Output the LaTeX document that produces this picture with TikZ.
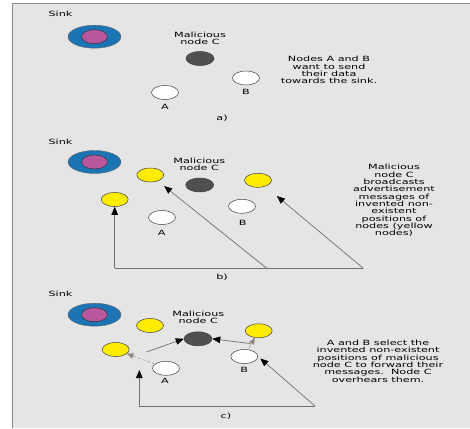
\documentclass[tikz,border=0pt]{standalone}
\usepackage{fontspec}
\usepackage{graphicx}
\newfontfamily\labfont{DejaVu Sans}
\usetikzlibrary{shapes.geometric,arrows.meta}
\definecolor{panel}{HTML}{E5E5E5}
\definecolor{framegray}{HTML}{8A8A8A}
\definecolor{sinkblue}{HTML}{1B75B5}
\definecolor{sinkpink}{HTML}{B8569E}
\definecolor{malgray}{HTML}{505050}
\definecolor{fakeyellow}{HTML}{FFEC00}
\definecolor{linegray}{HTML}{707070}
\definecolor{lightarr}{HTML}{B0A9A2}
\definecolor{lighthead}{HTML}{918880}
\newcommand\sqtxt[1]{\scalebox{1}[0.64]{\begin{tabular}{@{}c@{}}#1\end{tabular}}}
\begin{document}
\begin{tikzpicture}[x=1pt,y=-1pt,
  lbl/.style={font=\labfont\fontsize{11.2}{9.8}\selectfont, inner sep=0pt, text=black},
  nd/.style={ellipse, draw=black!75, line width=0.5pt, minimum width=27pt, minimum height=14pt, inner sep=0pt},
  plain/.style={nd, fill=white},
  fake/.style={nd, fill=fakeyellow},
  mal/.style={nd, fill=malgray, minimum width=28pt},
  sinkout/.style={ellipse, fill=sinkblue, draw=black!60, line width=0.4pt, minimum width=53pt, minimum height=23pt, inner sep=0pt},
  sinkin/.style={ellipse, fill=sinkpink, draw=black!80, line width=0.5pt, minimum width=26pt, minimum height=14pt, inner sep=0pt},
  ln/.style={draw=linegray, line width=0.7pt},
  arr/.style={ln, -{Triangle[length=8pt,width=6.5pt,color=black]}},
  larr/.style={draw=lightarr, line width=0.7pt, -{Triangle[length=6.5pt,width=5.5pt,color=lighthead]}},
  darr/.style={larr, densely dashed}
]
\useasboundingbox (0,0) rectangle (470,428);
\fill[white] (0,0) rectangle (470,428);
\fill[panel] (12.5,4) rectangle (470,428);
\draw[framegray, line width=1pt] (12.5,428) -- (12.5,4) -- (470,4);

% ---------- panel a ----------
\node[lbl] (sinkta) at (60.5,15) {\sqtxt{Sink}};
\node[sinkout] (sa) at (94.5,36.7) {};
\node[sinkin] (sai) at (sa) {};
\node[lbl] (malta) at (200,39) {\sqtxt{Malicious\\node C}};
\node[mal] (Ca) at (200,58.5) {};
\node[plain] (Ba) at (246,78) {};
\node[lbl] (Bta) at (246,92.7) {\sqtxt{B}};
\node[plain] (Aa) at (165,92.5) {};
\node[lbl] (Ata) at (165,108) {\sqtxt{A}};
\node[lbl] (capa) at (222,119) {\sqtxt{a)}};
\node[lbl] (desca) at (329,71) {\sqtxt{Nodes A and B\\want to send\\their data\\towards the sink.}};

% ---------- panel b ----------
\node[lbl] (sinktb) at (60.5,143) {\sqtxt{Sink}};
\node[sinkout] (sb) at (94.5,162) {};
\node[sinkin] (sbi) at (sb) {};
\node[lbl] (maltb) at (199.3,165.5) {\sqtxt{Malicious\\node C}};
\node[mal] (Cb) at (199.7,185) {};
\node[fake] (Y1b) at (150.3,175) {};
\node[fake] (Y2b) at (258,180.3) {};
\node[fake] (Y3b) at (114.7,199.5) {};
\node[plain] (Bb) at (242,206.3) {};
\node[lbl] (Btb) at (242.7,224) {\sqtxt{B}};
\node[plain] (Ab) at (162,217.5) {};
\node[lbl] (Atb) at (161.7,234) {\sqtxt{A}};
\node[lbl] (capb) at (222,278) {\sqtxt{b)}};
\node[lbl] (descb) at (394,201) {\sqtxt{Malicious\\node C\\broadcasts\\advertisement\\messages of\\invented non-\\existent\\positions of\\nodes (yellow\\nodes)}};
\coordinate (b1) at (114.7,268.3);
\coordinate (b2) at (266.7,268.3);
\coordinate (b3) at (363.3,268.3);
\draw[ln] (b1) -- (b3);
\draw[arr] (b1) -- (Y3b);
\draw[arr, shorten >=8pt] (b2) -- (Y1b);
\draw[arr, shorten >=15pt] (b3) -- (Y2b);

% ---------- panel c ----------
\node[lbl] (sinktc) at (60.5,295) {\sqtxt{Sink}};
\node[sinkout] (sc) at (94.5,314.7) {};
\node[sinkin] (sci) at (sc) {};
\node[lbl] (maltc) at (198.3,318) {\sqtxt{Malicious\\node C}};
\node[mal] (Cc) at (198,338.8) {};
\node[fake] (Y1c) at (150,325.5) {};
\node[fake] (Y2c) at (258.7,330.8) {};
\node[fake] (Y3c) at (115.7,349.5) {};
\node[plain] (Bc) at (244.3,356.5) {};
\node[lbl] (Btc) at (244.3,371) {\sqtxt{B}};
\node[plain] (Ac) at (166,368.3) {};
\node[lbl] (Atc) at (165,381.7) {\sqtxt{A}};
\node[lbl] (capc) at (226,416.7) {\sqtxt{c)}};
\node[lbl] (descc) at (378,362) {\sqtxt{A and B select the\\invented non-existent\\positions of malicious\\node C to forward their\\messages.\ \ Node C\\overhears them.}};
\draw[darr] (Ac) -- (Y3c);
\draw[larr] (Bc) -- (Y2c);
\coordinate (ca) at (146.5,352);
\coordinate (cb) at (250,343.5);
\draw[arr] (ca) -- (Cc.west);
\draw[arr] (cb) -- (Cc.east);
\coordinate (c1) at (139.3,406);
\coordinate (c2) at (315,406);
\coordinate (c3) at (139.3,370);
\draw[ln] (c1) -- (c2);
\draw[arr] (c1) -- (c3);
\draw[arr, shorten >=3pt] (c2) -- (Bc.east);
\end{tikzpicture}
\end{document}
